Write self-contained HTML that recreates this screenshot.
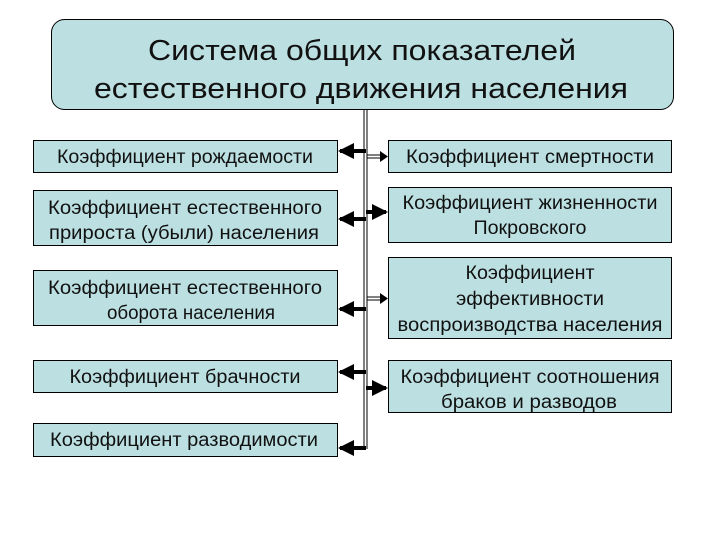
<!DOCTYPE html>
<html><head><meta charset="utf-8"><style>
html,body{margin:0;padding:0;background:#fff;}
svg{display:block;}
text{font-family:"Liberation Sans",sans-serif;fill:#111;}
</style></head><body>
<svg width="720" height="540" viewBox="0 0 720 540" xmlns="http://www.w3.org/2000/svg">
<defs>
<marker id="ah" markerWidth="4" markerHeight="4" refX="3.5" refY="2" orient="auto" markerUnits="strokeWidth"><path d="M0,0 L4,2 L0,4 z" fill="#000"/></marker>
</defs>
<rect x="51.5" y="19.5" width="622" height="90" rx="13" fill="#bcdfe1" stroke="#000" stroke-width="1"/>
<text x="362" y="60" font-size="29" text-anchor="middle" textLength="428" lengthAdjust="spacingAndGlyphs">Система общих показателей</text>
<text x="361" y="98" font-size="29" text-anchor="middle" textLength="534" lengthAdjust="spacingAndGlyphs">естественного движения населения</text>
<line x1="364" y1="110" x2="364" y2="449" stroke="#000" stroke-width="1"/>
<line x1="367" y1="110" x2="367" y2="449" stroke="#000" stroke-width="1"/>
<g fill="#bcdfe1" stroke="#000" stroke-width="1">
<rect x="33.5" y="140.5" width="304" height="32"/>
<rect x="33.5" y="190.5" width="304" height="55"/>
<rect x="33.5" y="270.5" width="304" height="55"/>
<rect x="33.5" y="360.5" width="304" height="32"/>
<rect x="33.5" y="423.5" width="304" height="33"/>
<rect x="388.5" y="140.5" width="283" height="32"/>
<rect x="388.5" y="187.5" width="283" height="55"/>
<rect x="388.5" y="257.5" width="283" height="81"/>
<rect x="388.5" y="360.5" width="283" height="52"/>
</g>
<g stroke="#000" stroke-width="4" marker-end="url(#ah)">
<line x1="366" y1="151" x2="340" y2="151"/>
<line x1="366" y1="219" x2="340" y2="219"/>
<line x1="366" y1="309" x2="340" y2="309"/>
<line x1="366" y1="372" x2="340" y2="372"/>
<line x1="366" y1="448" x2="340" y2="448"/>
</g>
<g stroke="#000" stroke-width="1">
<line x1="367" y1="155" x2="382" y2="155"/><line x1="367" y1="158" x2="382" y2="158"/>
<line x1="367" y1="297" x2="382" y2="297"/><line x1="367" y1="300" x2="382" y2="300"/>
</g>
<path d="M380,151 L388,156.5 L380,162 z" fill="#000"/>
<path d="M380,293 L388,298.5 L380,304 z" fill="#000"/>
<g stroke="#000" stroke-width="4" marker-end="url(#ah)">
<line x1="366" y1="212" x2="386" y2="212"/>
<line x1="366" y1="388" x2="386" y2="388"/>
</g>
<g font-size="19" text-anchor="middle" lengthAdjust="spacingAndGlyphs">
<text x="185" y="163" textLength="256" lengthAdjust="spacingAndGlyphs">Коэффициент рождаемости</text>
<text x="185" y="214" textLength="274" lengthAdjust="spacingAndGlyphs">Коэффициент естественного</text>
<text x="184" y="239" textLength="270" lengthAdjust="spacingAndGlyphs">прироста (убыли) населения</text>
<text x="185" y="294" textLength="274" lengthAdjust="spacingAndGlyphs">Коэффициент естественного</text>
<text x="191" y="319" textLength="168" lengthAdjust="spacingAndGlyphs">оборота населения</text>
<text x="185" y="383" textLength="231" lengthAdjust="spacingAndGlyphs">Коэффициент брачности</text>
<text x="184" y="446" textLength="268" lengthAdjust="spacingAndGlyphs">Коэффициент разводимости</text>
<text x="530" y="163" textLength="248" lengthAdjust="spacingAndGlyphs">Коэффициент смертности</text>
<text x="530" y="209" textLength="255" lengthAdjust="spacingAndGlyphs">Коэффициент жизненности</text>
<text x="530" y="234" textLength="113" lengthAdjust="spacingAndGlyphs">Покровского</text>
<text x="530" y="279" textLength="129" lengthAdjust="spacingAndGlyphs">Коэффициент</text>
<text x="530" y="305" textLength="148" lengthAdjust="spacingAndGlyphs">эффективности</text>
<text x="530" y="331" textLength="265" lengthAdjust="spacingAndGlyphs">воспроизводства населения</text>
<text x="530" y="383" textLength="259" lengthAdjust="spacingAndGlyphs">Коэффициент соотношения</text>
<text x="529" y="408" textLength="176" lengthAdjust="spacingAndGlyphs">браков и разводов</text>
</g>
</svg>
</body></html>
